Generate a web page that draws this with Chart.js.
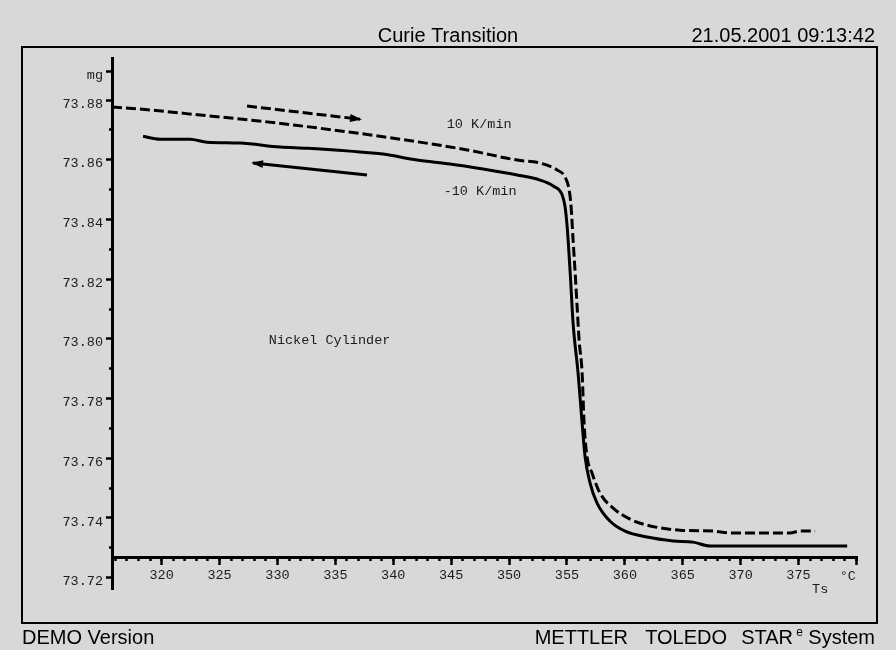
<!DOCTYPE html>
<html>
<head>
<meta charset="utf-8">
<title>Curie Transition</title>
<script src="https://cdn.jsdelivr.net/npm/chart.js@4/dist/chart.umd.min.js"></script>
<style>
  html, body { margin: 0; padding: 0; background: #d8d8d8; }
  canvas { display: block; }
</style>
</head>
<body>
<canvas id="tga" width="896" height="650"></canvas>
<script>
// heating run, 10 K/min (Ts in °C, mass in mg)
const heatT = [315.71, 318.99, 323.31, 329.10, 334.80, 340.59, 346.38, 350.70, 352.68, 354.15,
               354.84, 355.19, 355.36, 355.53, 355.71, 355.88, 356.05, 356.31, 356.48, 356.74,
               357.17, 357.86, 358.99, 360.45, 361.92, 364.77, 367.62, 369.09, 371.94, 374.27,
               375.14, 376.43];
const heatM = [73.8777, 73.8767, 73.8750, 73.8727, 73.8700, 73.8669, 73.8633, 73.8599, 73.8589, 73.8566,
               73.8542, 73.8499, 73.8442, 73.8331, 73.8221, 73.8107, 73.7996, 73.7886, 73.7718, 73.7604,
               73.7550, 73.7483, 73.7433, 73.7396, 73.7376, 73.7359, 73.7356, 73.7350, 73.7350, 73.7350,
               73.7356, 73.7356];

// cooling run, -10 K/min
const coolT = [318.39, 319.85, 322.44, 323.91, 326.76, 330.22, 332.55, 336.27, 339.12, 342.06,
               344.91, 347.76, 350.70, 352.68, 353.81, 354.59, 354.84, 355.02, 355.28, 355.53,
               355.96, 356.31, 356.57, 357.00, 357.60, 358.73, 360.02, 361.92, 364.17, 365.89,
               367.36, 370.56, 379.20];
const coolM = [73.8679, 73.8669, 73.8669, 73.8659, 73.8656, 73.8643, 73.8639, 73.8629, 73.8619, 73.8599,
               73.8586, 73.8569, 73.8549, 73.8532, 73.8512, 73.8482, 73.8442, 73.8375, 73.8221, 73.8053,
               73.7886, 73.7718, 73.7604, 73.7517, 73.7450, 73.7389, 73.7356, 73.7336, 73.7323, 73.7319,
               73.7306, 73.7306, 73.7306];

// direction arrows, tail -> head
const heatArrowT = [327.37, 337.13];
const heatArrowM = [73.8780, 73.8736];
const coolArrowT = [337.73, 327.89];
const coolArrowM = [73.8549, 73.8589];

// axes
const xMin = 315.71, xMax = 380.05;
const yMin = 73.7162, yMax = 73.8941;
const xAxisAt = 73.7266;   // mass level where the temperature axis crosses
const xMajorTicks = [320, 325, 330, 335, 340, 345, 350, 355, 360, 365, 370, 375, 380];
const xLabelled = [320, 325, 330, 335, 340, 345, 350, 355, 360, 365, 370, 375];
const xMinorTicks = [];
for (let t = 316; t <= 380; t++) xMinorTicks.push(t);
const yMajorTicks = [73.72, 73.74, 73.76, 73.78, 73.80, 73.82, 73.84, 73.86, 73.88];
const yMinorTicks = [73.73, 73.75, 73.77, 73.79, 73.81, 73.83, 73.85, 73.87];
const unitTick = 73.8896;

// text placed in data coordinates
const notes = [
  { text: '10 K/min',        x: 347.42, y: 73.8720 },
  { text: '-10 K/min',       x: 347.50, y: 73.8493 },
  { text: 'Nickel Cylinder', x: 334.50, y: 73.7996 },
  { text: '°C',              x: 379.25, y: 73.7203 },
  { text: 'Ts',              x: 376.87, y: 73.7161 }
];

const MONO = '"Liberation Mono", "DejaVu Sans Mono", monospace';
const SANS = '"Liberation Sans", Arial, sans-serif';
const INK = '#000';
const LABEL = '#1c1c1c';

const pts = (xs, ys) => xs.map((x, i) => ({ x, y: ys[i] }));

// page background, frame and header/footer lines
const sheet = {
  id: 'sheet',
  beforeDraw(chart) {
    const ctx = chart.ctx;
    ctx.save();
    ctx.fillStyle = '#d8d8d8';
    ctx.fillRect(0, 0, chart.width, chart.height);
    ctx.strokeStyle = INK;
    ctx.lineWidth = 2;
    ctx.strokeRect(22, 47, 855, 576);

    ctx.fillStyle = INK;
    ctx.font = '20px ' + SANS;
    ctx.textBaseline = 'alphabetic';
    ctx.textAlign = 'center';
    ctx.fillText('Curie Transition', 448, 42);
    ctx.textAlign = 'right';
    ctx.fillText('21.05.2001 09:13:42', 875, 42);

    ctx.textAlign = 'left';
    ctx.fillText('DEMO Version', 22, 644);
    ctx.textAlign = 'right';
    ctx.fillText('METTLER', 628, 644);
    ctx.fillText('TOLEDO', 727, 644);
    ctx.fillText('STAR', 793, 644);
    ctx.fillText('System', 875, 644);
    ctx.font = '12px ' + SANS;
    ctx.fillText('e', 803, 636);
    ctx.restore();
  }
};

// arrow heads and free text
const marks = {
  id: 'marks',
  afterDatasetsDraw(chart) {
    const ctx = chart.ctx;
    const xs = chart.scales.x, ys = chart.scales.y;
    ctx.save();
    ctx.fillStyle = INK;
    chart.data.datasets.forEach((ds, i) => {
      if (!ds.arrow) return;
      const el = chart.getDatasetMeta(i).data;
      const a = el[el.length - 2], b = el[el.length - 1];
      const ang = Math.atan2(b.y - a.y, b.x - a.x);
      const c = Math.cos(ang), s = Math.sin(ang);
      const len = 10, half = 4;
      ctx.beginPath();
      ctx.moveTo(b.x + c * 2, b.y + s * 2);
      ctx.lineTo(b.x - c * len + s * half, b.y - s * len - c * half);
      ctx.lineTo(b.x - c * len - s * half, b.y - s * len + c * half);
      ctx.closePath();
      ctx.fill();
    });

    ctx.fillStyle = LABEL;
    ctx.font = '13.5px ' + MONO;
    ctx.textAlign = 'center';
    ctx.textBaseline = 'middle';
    notes.forEach(n => {
      ctx.fillText(n.text, xs.getPixelForValue(n.x), ys.getPixelForValue(n.y));
    });
    ctx.restore();
  }
};

const curve = (xs, ys, dash) => ({
  data: pts(xs, ys),
  showLine: true,
  borderColor: INK,
  borderWidth: 3,
  borderDash: dash,
  borderJoinStyle: 'round',
  pointRadius: 0,
  cubicInterpolationMode: 'monotone'
});

new Chart(document.getElementById('tga'), {
  type: 'scatter',
  data: {
    datasets: [
      curve(heatT, heatM, [10, 4]),
      curve(coolT, coolM, []),
      Object.assign(curve(heatArrowT, heatArrowM, [10, 4]), { arrow: true, cubicInterpolationMode: 'default' }),
      Object.assign(curve(coolArrowT, coolArrowM, []), { arrow: true, cubicInterpolationMode: 'default' })
    ]
  },
  options: {
    responsive: false,
    animation: false,
    devicePixelRatio: 1,
    layout: { padding: { left: 0, top: 58, right: 39, bottom: 61 } },
    plugins: { legend: { display: false }, tooltip: { enabled: false } },
    scales: {
      x: {
        type: 'linear', min: xMin, max: xMax,
        position: { y: xAxisAt },
        border: { display: true, color: INK, width: 3 },
        grid: { drawOnChartArea: false, drawTicks: true, tickLength: 6, tickWidth: 2.5, tickColor: INK },
        ticks: {
          autoSkip: false, maxRotation: 0, padding: 3, color: LABEL,
          font: { family: MONO, size: 13.5 },
          callback: v => xLabelled.includes(v) ? String(v) : ''
        },
        afterBuildTicks: s => { s.ticks = xMajorTicks.map(v => ({ value: v })); }
      },
      xm: {
        axis: 'x', type: 'linear', min: xMin, max: xMax,
        position: { y: xAxisAt },
        border: { display: false },
        grid: { drawOnChartArea: false, drawTicks: true, tickLength: 3, tickWidth: 2.5, tickColor: INK },
        ticks: { display: false },
        afterBuildTicks: s => { s.ticks = xMinorTicks.map(v => ({ value: v })); }
      },
      y: {
        type: 'linear', min: yMin, max: yMax,
        position: 'left',
        border: { display: true, color: INK, width: 3 },
        grid: { drawOnChartArea: false, drawTicks: true, tickLength: 6, tickWidth: 2.5, tickColor: INK },
        ticks: {
          autoSkip: false, padding: 3, labelOffset: 4, color: LABEL,
          font: { family: MONO, size: 13.5 },
          callback: v => Math.abs(v - unitTick) < 1e-6 ? 'mg' : v.toFixed(2)
        },
        afterBuildTicks: s => { s.ticks = yMajorTicks.concat([unitTick]).map(v => ({ value: v })); },
        afterFit: s => { s.width = 112; }
      },
      ym: {
        axis: 'y', type: 'linear', min: yMin, max: yMax,
        position: { x: xMin },
        border: { display: false },
        grid: { drawOnChartArea: false, drawTicks: true, tickLength: 3, tickWidth: 2.5, tickColor: INK },
        ticks: { display: false },
        afterBuildTicks: s => { s.ticks = yMinorTicks.map(v => ({ value: v })); }
      }
    }
  },
  plugins: [sheet, marks]
});
</script>
</body>
</html>
